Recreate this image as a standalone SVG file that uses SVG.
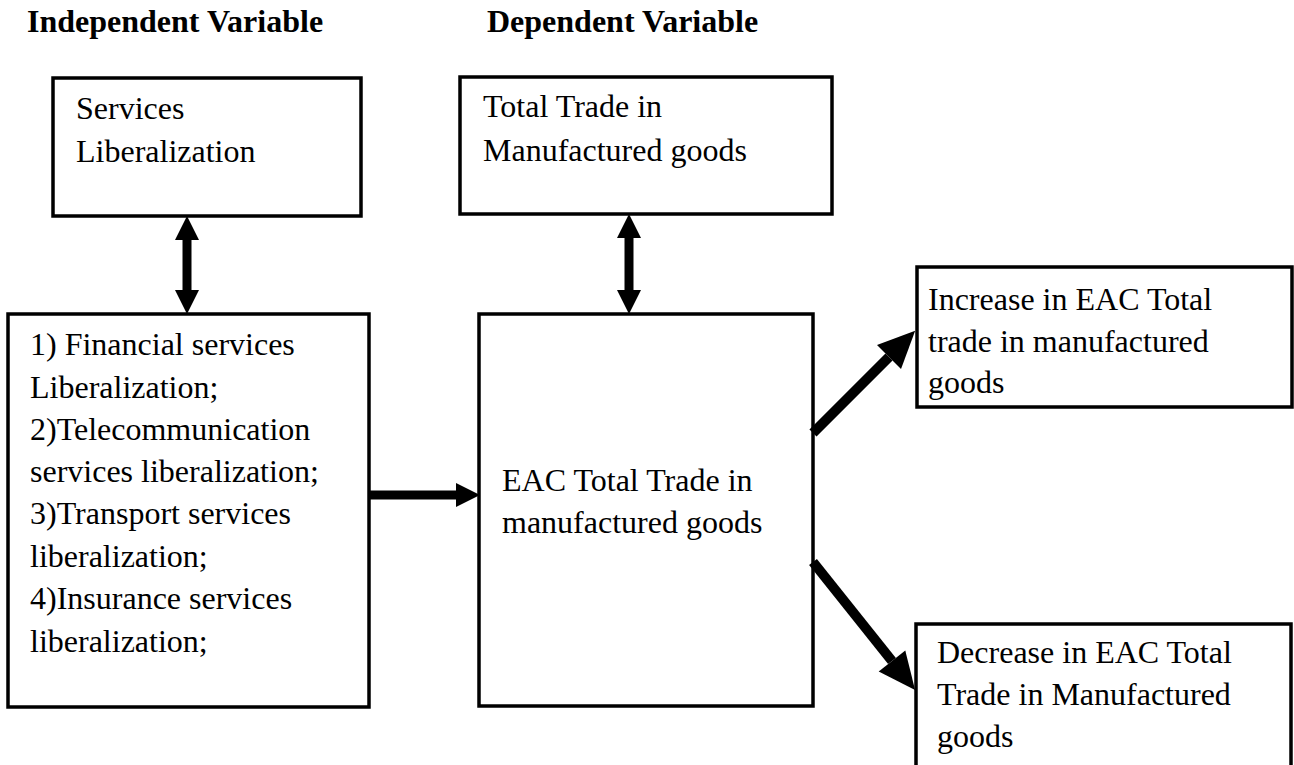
<svg xmlns="http://www.w3.org/2000/svg" width="1294" height="765" viewBox="0 0 1294 765">
<style>
.box{fill:#fff;stroke:#000;stroke-width:3.5}
.t{font-size:32px;fill:#000}
.h{font-size:32px;font-weight:bold;fill:#000}
.c{stroke:#000;fill:none}
.s{stroke-width:9}
.d{stroke-width:10}
</style>
<defs>
<marker id="ah" markerUnits="userSpaceOnUse" viewBox="0 -12 24 24" refX="0" refY="0" markerWidth="24" markerHeight="24" orient="auto-start-reverse" overflow="visible">
<path d="M0,-12 L24,0 L0,12 Z" fill="#000"/>
</marker>
<marker id="ahd" markerUnits="userSpaceOnUse" viewBox="0 -17 38 34" refX="0" refY="0" markerWidth="38" markerHeight="34" orient="auto" overflow="visible">
<path d="M0,-17 L37,0 L0,17 Z" fill="#000"/>
</marker>
</defs>
<rect width="1294" height="765" fill="#fff"/>
<g font-family="Liberation Serif, Times New Roman, serif">
<text class="h" x="27" y="32">Independent Variable</text>
<text class="h" x="487" y="32">Dependent Variable</text>
<g id="node-services">
<rect class="box" x="53" y="78" width="308" height="138"/>
<text class="t" x="76" y="119">Services</text>
<text class="t" x="76" y="162">Liberalization</text>
</g>
<g id="node-total-trade">
<rect class="box" x="460" y="77" width="372" height="137"/>
<text class="t" x="483" y="117">Total Trade in</text>
<text class="t" x="483" y="161">Manufactured goods</text>
</g>
<g id="node-list">
<rect class="box" x="8" y="314" width="361" height="393"/>
<text class="t" x="30" y="355">1) Financial services</text>
<text class="t" x="30" y="398">Liberalization;</text>
<text class="t" x="30" y="440">2)Telecommunication</text>
<text class="t" x="30" y="482">services liberalization;</text>
<text class="t" x="30" y="524">3)Transport services</text>
<text class="t" x="30" y="567">liberalization;</text>
<text class="t" x="30" y="609">4)Insurance services</text>
<text class="t" x="30" y="652">liberalization;</text>
</g>
<g id="node-eac">
<rect class="box" x="479" y="314" width="334" height="392"/>
<text class="t" x="502" y="491">EAC Total Trade in</text>
<text class="t" x="502" y="533">manufactured goods</text>
</g>
<g id="node-increase">
<rect class="box" x="917" y="267" width="375" height="140"/>
<text class="t" x="928" y="310">Increase in EAC Total</text>
<text class="t" x="928" y="352">trade in manufactured</text>
<text class="t" x="928" y="393">goods</text>
</g>
<g id="node-decrease">
<rect class="box" x="916" y="624" width="375" height="170"/>
<text class="t" x="937" y="663">Decrease in EAC Total</text>
<text class="t" x="937" y="705">Trade in Manufactured</text>
<text class="t" x="937" y="747">goods</text>
</g>
</g>
<g id="connectors">
<line class="c s" x1="187" y1="240" x2="187" y2="290" marker-start="url(#ah)" marker-end="url(#ah)"/>
<line class="c s" x1="629" y1="238" x2="629" y2="290" marker-start="url(#ah)" marker-end="url(#ah)"/>
<line class="c s" x1="370" y1="495" x2="456" y2="495" marker-end="url(#ah)"/>
<line class="c d" x1="813" y1="433" x2="889" y2="357" marker-end="url(#ahd)"/>
<line class="c d" x1="813" y1="562" x2="892" y2="661" marker-end="url(#ahd)"/>
</g>
</svg>
